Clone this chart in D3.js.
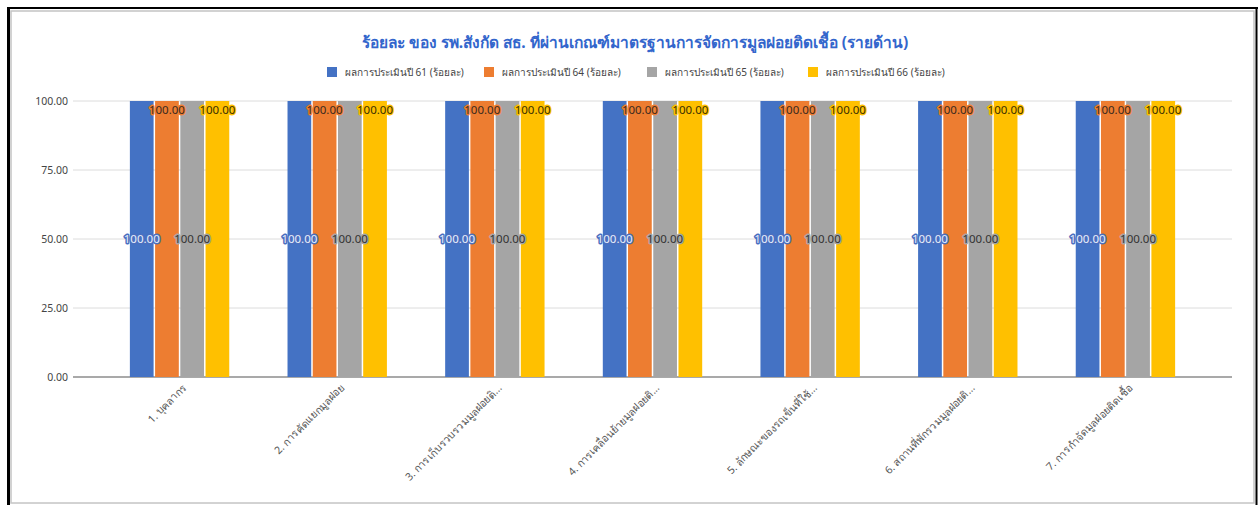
<!DOCTYPE html>
<html>
<head>
<meta charset="utf-8">
<script src="https://cdn.jsdelivr.net/npm/d3@7"></script>
<style>
  body { margin: 0; background: #fff; }
  svg { display: block; font-family: "Noto Sans", "DejaVu Sans", sans-serif; }
</style>
</head>
<body>
<div id="chart"></div>
<script>
const categories = [
  "1. บุคลากร",
  "2. การคัดแยกมูลฝอย",
  "3. การเก็บรวบรวมมูลฝอยติ...",
  "4. การเคลื่อนย้ายมูลฝอยติ...",
  "5. ลักษณะของรถเข็นที่ใช้...",
  "6. สถานที่พักรวมมูลฝอยติ...",
  "7. การกำจัดมูลฝอยติดเชื้อ"
];
const seriesNames = [
  "ผลการประเมินปี 61 (ร้อยละ)",
  "ผลการประเมินปี 64  (ร้อยละ)",
  "ผลการประเมินปี 65 (ร้อยละ)",
  "ผลการประเมินปี 66 (ร้อยละ)"
];
const year61 = [100, 100, 100, 100, 100, 100, 100];
const year64 = [100, 100, 100, 100, 100, 100, 100];
const year65 = [100, 100, 100, 100, 100, 100, 100];
const year66 = [100, 100, 100, 100, 100, 100, 100];
const yTicks = [0, 25, 50, 75, 100];

const seriesValues = [year61, year64, year65, year66];
const colors = ["#4472c4", "#ed7d31", "#a5a5a5", "#ffc000"];
// where the value label sits: middle of bar or just inside the top
const labelPos = ["mid", "top", "mid", "top"];
const labelFill = ["#e8eefa", "#3a2a1e", "#333333", "#3a3000"];

const W = 1259, H = 505;
const svg = d3.select("#chart").append("svg")
  .attr("width", W).attr("height", H);

// frame
svg.append("rect").attr("x", 11).attr("y", 11).attr("width", 1243).attr("height", 492)
  .attr("fill", "none").attr("stroke", "#c4c4c4").attr("stroke-width", 1.5);
svg.append("line").attr("x1", 7).attr("x2", 1258).attr("y1", 8).attr("y2", 8)
  .attr("stroke", "#000").attr("stroke-width", 2);
svg.append("line").attr("x1", 8.5).attr("x2", 8.5).attr("y1", 7).attr("y2", H)
  .attr("stroke", "#000").attr("stroke-width", 3);
svg.append("line").attr("x1", 1256.5).attr("x2", 1256.5).attr("y1", 7).attr("y2", H)
  .attr("stroke", "#000").attr("stroke-width", 2);

const plot = { left: 73, right: 1232, top: 101, bottom: 377 };

const x0 = d3.scaleBand()
  .domain(categories)
  .range([plot.left, plot.right])
  .paddingInner(0.36)
  .paddingOuter(0.356);

const x1 = d3.scaleBand()
  .domain(d3.range(seriesNames.length))
  .range([0, x0.bandwidth()]);

const y = d3.scaleLinear().domain([0, 100]).range([plot.bottom, plot.top]);

// title
svg.append("text")
  .attr("x", 635).attr("y", 48)
  .attr("text-anchor", "middle")
  .attr("font-size", 15.5).attr("font-weight", "bold")
  .attr("fill", "#3366cc")
  .text("ร้อยละ ของ รพ.สังกัด สธ. ที่ผ่านเกณฑ์มาตรฐานการจัดการมูลฝอยติดเชื้อ (รายด้าน)");

// legend
const legendX = [327, 484, 647, 808];
const legend = svg.append("g").selectAll("g")
  .data(seriesNames)
  .enter().append("g")
  .attr("transform", (d, i) => `translate(${legendX[i]},67)`);
legend.append("rect").attr("width", 10).attr("height", 10)
  .attr("fill", (d, i) => colors[i]);
legend.append("text").attr("x", 18).attr("y", 9)
  .attr("font-size", 10).attr("fill", "#444")
  .text(d => d);

// gridlines + y labels
const yAxis = svg.append("g");
yAxis.selectAll("line").data(yTicks).enter().append("line")
  .attr("x1", plot.left).attr("x2", plot.right)
  .attr("y1", d => y(d)).attr("y2", d => y(d))
  .attr("stroke", d => d === 0 ? "#555" : "#dcdcdc")
  .attr("stroke-width", d => d === 0 ? 1.2 : 1);
yAxis.selectAll("text").data(yTicks).enter().append("text")
  .attr("x", plot.left - 5).attr("y", d => y(d)).attr("dy", "0.35em")
  .attr("text-anchor", "end")
  .attr("font-size", 10.5).attr("fill", "#444")
  .text(d => d3.format(".2f")(d));

// bars
const groups = svg.append("g").selectAll("g")
  .data(categories)
  .enter().append("g")
  .attr("transform", d => `translate(${x0(d)},0)`);

groups.selectAll("rect")
  .data((d, ci) => seriesValues.map((vals, si) => ({ si, v: vals[ci] })))
  .enter().append("rect")
  .attr("x", d => x1(d.si) + 0.75)
  .attr("width", x1.bandwidth() - 1.5)
  .attr("y", d => y(d.v))
  .attr("height", d => y(0) - y(d.v))
  .attr("fill", d => colors[d.si]);

// value labels with halo
groups.selectAll("text.val")
  .data((d, ci) => seriesValues.map((vals, si) => ({ si, v: vals[ci] })))
  .enter().append("text")
  .attr("class", "val")
  .attr("x", d => x1(d.si) + x1.bandwidth() / 2)
  .attr("y", d => labelPos[d.si] === "mid" ? y(d.v / 2) : y(d.v) + 9)
  .attr("dy", "0.35em")
  .attr("text-anchor", "middle")
  .attr("font-size", 11.5)
  .attr("fill", d => labelFill[d.si])
  .attr("stroke", d => d.si === 0 ? "#4a6fc0" : colors[d.si])
  .attr("stroke-width", 3)
  .attr("stroke-linejoin", "round")
  .attr("paint-order", "stroke")
  .text(d => d3.format(".2f")(d.v));

// x labels rotated
svg.append("g").selectAll("text")
  .data(categories)
  .enter().append("text")
  .attr("transform", d => `translate(${x0(d) + x0.bandwidth() / 2 + 5},${plot.bottom + 9}) rotate(-45)`)
  .attr("text-anchor", "end")
  .attr("dy", "0.35em")
  .attr("font-size", 10.5).attr("fill", "#555")
  .text(d => d);
</script>
</body>
</html>
